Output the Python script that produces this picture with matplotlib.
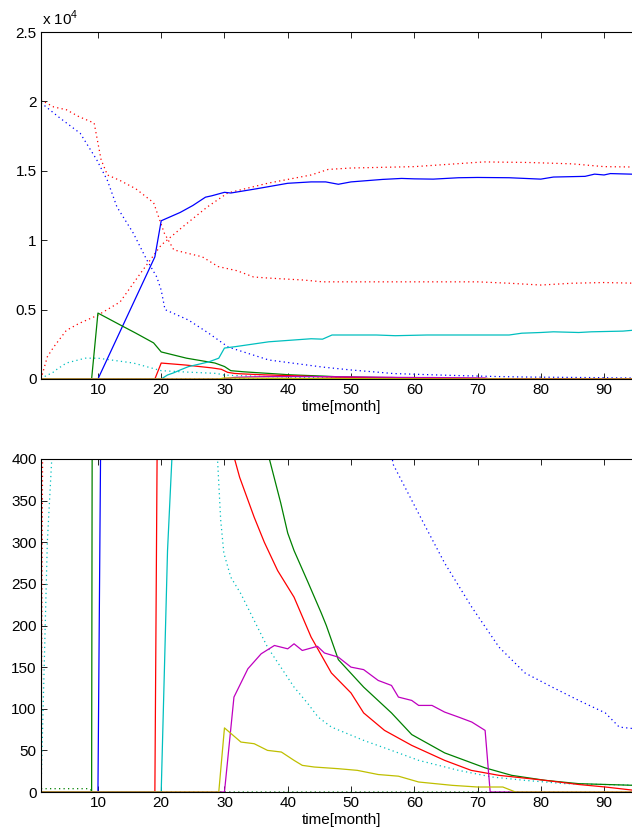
import numpy as np
import matplotlib
matplotlib.use('Agg')
import matplotlib.pyplot as plt

plt.rcParams['font.family'] = ['Liberation Sans', 'DejaVu Sans']
plt.rcParams['mathtext.fontset'] = 'custom'
plt.rcParams['mathtext.rm'] = 'Liberation Sans'

#%% data (month, value)

blue_t = [1, 10, 19, 20, 21, 23, 25, 27, 28, 30, 31, 35, 40, 43.7, 46, 48, 50, 55, 58, 60,
          63, 67, 70, 75, 80, 82, 87, 88.5, 90, 91, 95, 96]
blue_v = [0, 0, 8800, 11400, 11600, 12000, 12500, 13100, 13200, 13450, 13400, 13700, 14100,
          14200, 14200, 14030, 14200, 14380, 14450, 14420, 14400, 14500, 14520, 14500, 14400,
          14550, 14600, 14760, 14700, 14800, 14750, 14750]

green_t = [1, 9, 10, 13.5, 16, 18.8, 20, 24, 28.5, 30, 31, 33, 35, 37.1, 38.9, 40, 41, 43.2,
           45.3, 46.1, 48, 52, 56.4, 59.6, 64.8, 71.2, 75.4, 80.7, 86, 94.8, 96]
green_v = [0, 0, 4750, 3900, 3300, 2600, 1950, 1500, 1150, 900, 600, 520, 460, 400, 347, 311,
           290, 252, 215, 200, 159, 126, 95, 69, 47, 29, 20, 14, 10, 8, 8]

red_t = [1, 19, 20, 24, 28, 29.5, 30.5, 31.6, 32.4, 34.7, 36.3, 38.4, 41, 43.7, 46.9, 50, 52,
         55.3, 59.6, 64.8, 69, 73.4, 80.7, 86, 90.2, 94.8, 96]
red_v = [0, 0, 1150, 1000, 800, 700, 480, 400, 378, 330, 300, 266, 234, 186, 143, 119, 95,
         74, 56, 38, 26, 20, 14, 9, 6, 2, 2]

cyan_t = [1, 20, 21, 22, 23, 24.3, 27.5, 29.1, 30, 31.7, 37, 43.7, 45.5, 47, 54, 57, 62, 75,
          77, 80, 82, 86, 88, 93, 95, 96]
cyan_v = [0, 0, 290, 450, 650, 890, 1230, 1500, 2230, 2330, 2680, 2900, 2870, 3170, 3170,
          3120, 3170, 3170, 3300, 3350, 3400, 3350, 3400, 3450, 3530, 3530]

magenta_t = [1, 30, 31.5, 33.7, 35.8, 37.9, 40, 41, 42.3, 44.2, 44.7, 45.8, 48, 50, 52, 54.3,
             56.4, 57.5, 59.6, 60.7, 62.8, 64.8, 67, 69.1, 71.2, 72, 96]
magenta_v = [0, 0, 114, 148, 166, 176, 172, 178, 170, 174, 175, 167, 162, 150, 147, 134,
             128, 114, 110, 104, 104, 96, 90, 84, 74, 0, 0]

yellow_t = [1, 29.1, 30, 32.6, 34.7, 36.8, 39, 41, 42.3, 44.2, 48, 51, 54.3, 57.5, 60.7, 66,
            70, 74, 76, 96]
yellow_v = [0, 0, 77, 60, 58, 50, 48, 38, 32, 30, 28, 26, 21, 19, 12, 8, 6, 6, 0, 0]

# dotted series
red_dn_t = [1, 3, 5, 7, 9.4, 10.5, 11.5, 13.5, 16, 18.8, 20.5, 22, 26.5, 29, 32, 34.6, 37,
            42.5, 45.5, 50, 60, 70, 75, 80, 85, 90, 95, 96]
red_dn_v = [20100, 19600, 19400, 18900, 18440, 15800, 14700, 14300, 13700, 12700, 10500,
            9300, 8800, 8100, 7800, 7350, 7270, 7130, 7000, 7000, 7000, 7000, 6900, 6770,
            6900, 6950, 6900, 6900]

red_up_t = [1, 2, 3, 5, 7, 10, 13.5, 16.7, 20, 23.5, 27.3, 30.5, 36.8, 43.7, 46.4, 50, 60,
            71, 78, 85, 90, 95, 96]
red_up_v = [0, 1600, 2300, 3500, 4000, 4600, 5550, 7600, 9650, 11000, 12400, 13400, 14100,
            14700, 15100, 15200, 15300, 15640, 15600, 15500, 15300, 15270, 15270]

blue_dn_t = [1, 4, 7.2, 9.8, 11.5, 13, 15.6, 17.7, 19.3, 20, 20.6, 24.3, 27.5, 30.6, 37,
             45.5, 50, 54, 56.7, 61.2, 64.8, 69.1, 73.4, 77.5, 81.8, 86, 90.2, 92.4, 96]
blue_dn_v = [19900, 18800, 17700, 15800, 14300, 12400, 10500, 8600, 7350, 6400, 5000, 4250,
             3300, 2300, 1370, 860, 650, 500, 393, 327, 275, 222, 174, 143, 126, 110, 95,
             78, 75]

cyan_dn_t = [1, 2, 2.7, 3.2, 5, 8, 10, 15.6, 20, 24, 28.9, 29.4, 29.9, 31, 32.6, 34.7, 36.8,
             38.9, 41, 43.2, 44.8, 46.9, 52, 56.4, 60.7, 67, 72.3, 77.5, 83.9, 96]
cyan_dn_v = [0, 300, 400, 600, 1150, 1500, 1500, 1150, 600, 500, 400, 327, 287, 258, 238,
             206, 174, 150, 126, 106, 90, 78, 62, 50, 38, 26, 18, 14, 10, 8]

green_dn_t = [1, 8.5, 9.5, 96]
green_dn_v = [4, 4, 0, 0]

#%% plot

dots = (0, (1.0, 2.6))
series = [
    (red_dn_t, red_dn_v, 'r', dots),
    (red_up_t, red_up_v, 'r', dots),
    (blue_dn_t, blue_dn_v, 'b', dots),
    (cyan_dn_t, cyan_dn_v, (0, 0.75, 0.75), dots),
    (green_dn_t, green_dn_v, (0, 0.5, 0), dots),
    (blue_t, blue_v, 'b', '-'),
    (green_t, green_v, (0, 0.5, 0), '-'),
    (red_t, red_v, 'r', '-'),
    (cyan_t, cyan_v, (0, 0.75, 0.75), '-'),
    (magenta_t, magenta_v, (0.75, 0, 0.75), '-'),
    (yellow_t, yellow_v, (0.75, 0.75, 0), '-'),
]

fig = plt.figure(figsize=(6.32, 8.36), dpi=100)
W, H = 632.0, 836.0
ax1 = fig.add_axes([41 / W, 1 - 379 / H, 601 / W, 347 / H])
ax2 = fig.add_axes([41 / W, 1 - 792 / H, 601 / W, 333 / H])

for ax in (ax1, ax2):
    for t, v, c, ls in series:
        ax.plot(t, v, color=c, linestyle=ls, linewidth=0.9)
    ax.set_xlim(1, 96)
    ax.set_xticks(np.arange(10, 100, 10))
    ax.tick_params(direction='in', top=True, right=False, length=4, width=0.6,
                   labelsize=11, pad=3)
    ax.set_xlabel('time[month]', fontsize=11, labelpad=2)
    for s in ax.spines.values():
        s.set_linewidth(0.8)

ax1.set_ylim(0, 25000)
ax1.set_yticks(np.arange(0, 25001, 5000))
ax1.set_yticklabels(['0', '0.5', '1', '1.5', '2', '2.5'])
fig.text(42 / W, 1 - 25 / H, r'x 10$^{\mathregular{4}}$', fontsize=11, va='baseline')

ax2.set_ylim(0, 400)
ax2.set_yticks(np.arange(0, 401, 50))

fig.savefig('out.png', dpi=100)
